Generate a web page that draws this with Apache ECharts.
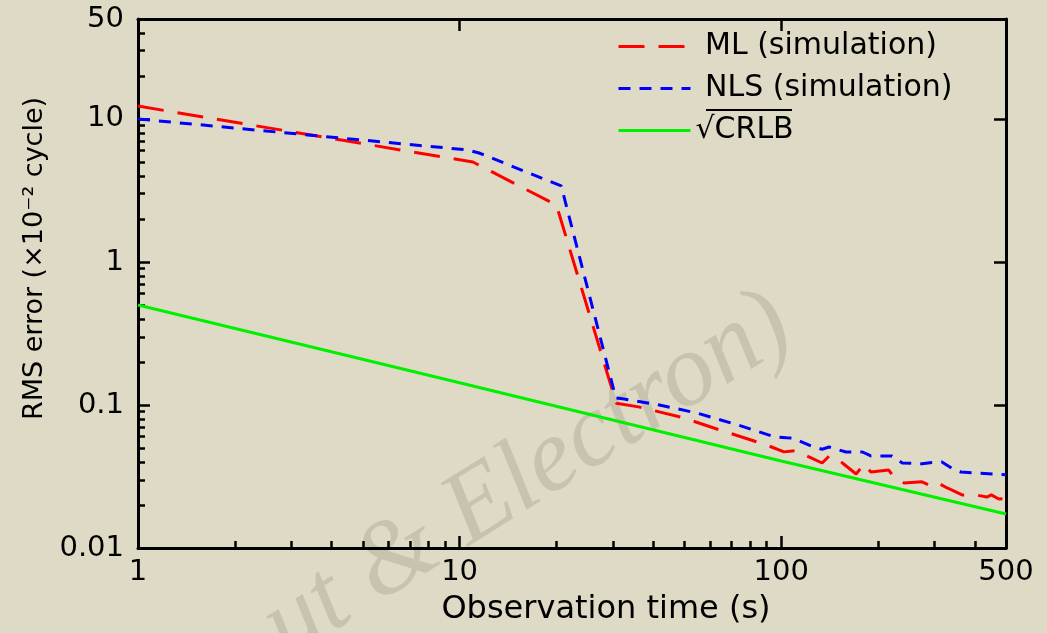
<!DOCTYPE html>
<html>
<head>
<meta charset="utf-8">
<script src="https://cdn.jsdelivr.net/npm/echarts@6/dist/echarts.min.js"></script>
<style>
  html, body { margin: 0; padding: 0; background: #dedac5; }
  #chart { width: 1047px; height: 633px; }
</style>
</head>
<body>
<div id="chart"></div>
<script>
// observation time (s) and RMS error (x10^-2 cycle)
var mlTime = [1, 11, 20, 30.7, 36, 49, 67, 90, 102, 111, 122, 134, 141, 149, 155, 171, 181, 190, 216, 224, 241, 274, 288, 303, 328, 340, 365, 403, 436, 450, 475, 500];
var mlRms = [12.3, 5.0, 2.5, 0.103, 0.097, 0.082, 0.065, 0.0525, 0.047, 0.048, 0.0433, 0.0393, 0.044, 0.0426, 0.0393, 0.0329, 0.0388, 0.034, 0.0351, 0.0314, 0.0285, 0.029, 0.0276, 0.029, 0.0263, 0.0254, 0.0235, 0.0235, 0.0227, 0.0235, 0.022, 0.0222];

var nlsTime = [1, 10.6, 11.5, 20.7, 30.6, 32.5, 41.8, 54.5, 74, 95, 104, 108, 124, 134, 141, 159, 179, 190, 221, 238, 274, 290, 316, 340, 362, 400, 500];
var nlsRms = [10, 6.07, 5.78, 3.4, 0.112, 0.110, 0.1, 0.088, 0.072, 0.060, 0.059, 0.0588, 0.0517, 0.049, 0.0508, 0.0469, 0.0469, 0.044, 0.044, 0.0393, 0.0388, 0.0395, 0.0399, 0.036, 0.034, 0.0335, 0.0325];

var crlbTime = [1, 10, 100, 500];
var crlbRms = [0.5, 0.143, 0.0406, 0.0173];

var xMajorTicks = [1, 10, 100, 500];
var xMinorTicks = [2, 3, 4, 5, 6, 7, 8, 9, 20, 30, 40, 50, 60, 70, 80, 90, 200, 300, 400];
var yMajorTicks = [0.01, 0.1, 1, 10, 50];
var yMinorTicks = [0.02, 0.03, 0.04, 0.05, 0.06, 0.07, 0.08, 0.09, 0.2, 0.3, 0.4, 0.5, 0.6, 0.7, 0.8, 0.9, 2, 3, 4, 5, 6, 7, 8, 9, 20, 30, 40];

function pairs(xs, ys) {
  var out = [];
  for (var i = 0; i < xs.length; i++) out.push([xs[i], ys[i]]);
  return out;
}

var FONT = 'DejaVu Sans';
var chart = echarts.init(document.getElementById('chart'));

// one axis for major ticks + labels, one overlay for minor ticks, one for the frame side
function xAxisDef(pos, ticks, len, withLine, withLabel) {
  return {
    type: 'log', logBase: 10, min: 1, max: 500, position: pos,
    axisLine: { show: withLine, lineStyle: { color: '#000', width: 3 } },
    axisTick: { show: true, inside: true, length: len, customValues: ticks, lineStyle: { color: '#000', width: 2.5 } },
    axisLabel: { show: withLabel, customValues: ticks, margin: 10, color: '#000', fontSize: 29, fontFamily: FONT },
    splitLine: { show: false }
  };
}
function yAxisDef(pos, ticks, len, withLine, withLabel) {
  return {
    type: 'log', logBase: 10, min: 0.01, max: 50, position: pos,
    axisLine: { show: withLine, lineStyle: { color: '#000', width: 3 } },
    axisTick: { show: true, inside: true, length: len, customValues: ticks, lineStyle: { color: '#000', width: 2.5 } },
    axisLabel: { show: withLabel, customValues: ticks, margin: 14, color: '#000', fontSize: 29, fontFamily: FONT },
    splitLine: { show: false }
  };
}

var xMain = xAxisDef('bottom', xMajorTicks, 12, true, true);
xMain.name = 'Observation time (s)';
xMain.nameLocation = 'middle';
xMain.nameGap = 46;
xMain.nameTextStyle = { color: '#000', fontSize: 32, fontFamily: FONT, padding: [0, 0, 0, 68] };

var yMain = yAxisDef('left', yMajorTicks, 12, true, true);
yMain.name = 'RMS error (×10⁻² cycle)';
yMain.nameLocation = 'middle';
yMain.nameGap = 86;
yMain.nameTextStyle = { color: '#000', fontSize: 27, fontFamily: FONT, padding: [0, 0, 0, 50] };

var option = {
  backgroundColor: '#dedac5',
  animation: false,
  grid: { left: 138, right: 41, top: 19, bottom: 85 },
  xAxis: [
    xMain,
    xAxisDef('bottom', xMinorTicks, 7, false, false),
    xAxisDef('top', [10, 100], 12, true, false)
  ],
  yAxis: [
    yMain,
    yAxisDef('left', yMinorTicks, 7, false, false),
    yAxisDef('right', [0.1, 1, 10], 12, true, false)
  ],
  legend: {
    orient: 'vertical',
    left: 612,
    top: 26,
    itemWidth: 72,
    itemHeight: 14,
    itemGap: 11,
    itemStyle: { opacity: 0 },
    lineStyle: { width: 3 },
    formatter: function (name) {
      return name.charAt(0) === '√' ? name : ' ' + name;
    },
    textStyle: { color: '#000', fontSize: 30, fontFamily: FONT, lineHeight: 31 },
    data: ['ML (simulation)', 'NLS (simulation)', '√CRLB']
  },
  graphic: [
    {
      type: 'text', z: -10, x: 300, y: 681, rotation: 0.56,
      style: {
        text: 'ut & Electron)',
        font: 'italic 104px "Liberation Serif"',
        fill: '#c8c3af',
        align: 'left',
        verticalAlign: 'bottom'
      }
    },
    {
      type: 'line', z: 10,
      shape: { x1: 706, y1: 110, x2: 792, y2: 110 },
      style: { stroke: '#000', lineWidth: 2 }
    }
  ],
  series: [
    {
      name: 'ML (simulation)', type: 'line', symbol: 'none', z: 3,
      data: pairs(mlTime, mlRms),
      lineStyle: { color: '#ff0000', width: 3, type: [26, 14] },
      itemStyle: { color: '#ff0000' }
    },
    {
      name: 'NLS (simulation)', type: 'line', symbol: 'none', z: 4,
      data: pairs(nlsTime, nlsRms),
      lineStyle: { color: '#0000ff', width: 3, type: [12, 9] },
      itemStyle: { color: '#0000ff' }
    },
    {
      name: '√CRLB', type: 'line', symbol: 'none', z: 2,
      data: pairs(crlbTime, crlbRms),
      lineStyle: { color: '#00f000', width: 3, type: 'solid' },
      itemStyle: { color: '#00f000' }
    }
  ]
};
chart.setOption(option);
</script>
</body>
</html>
